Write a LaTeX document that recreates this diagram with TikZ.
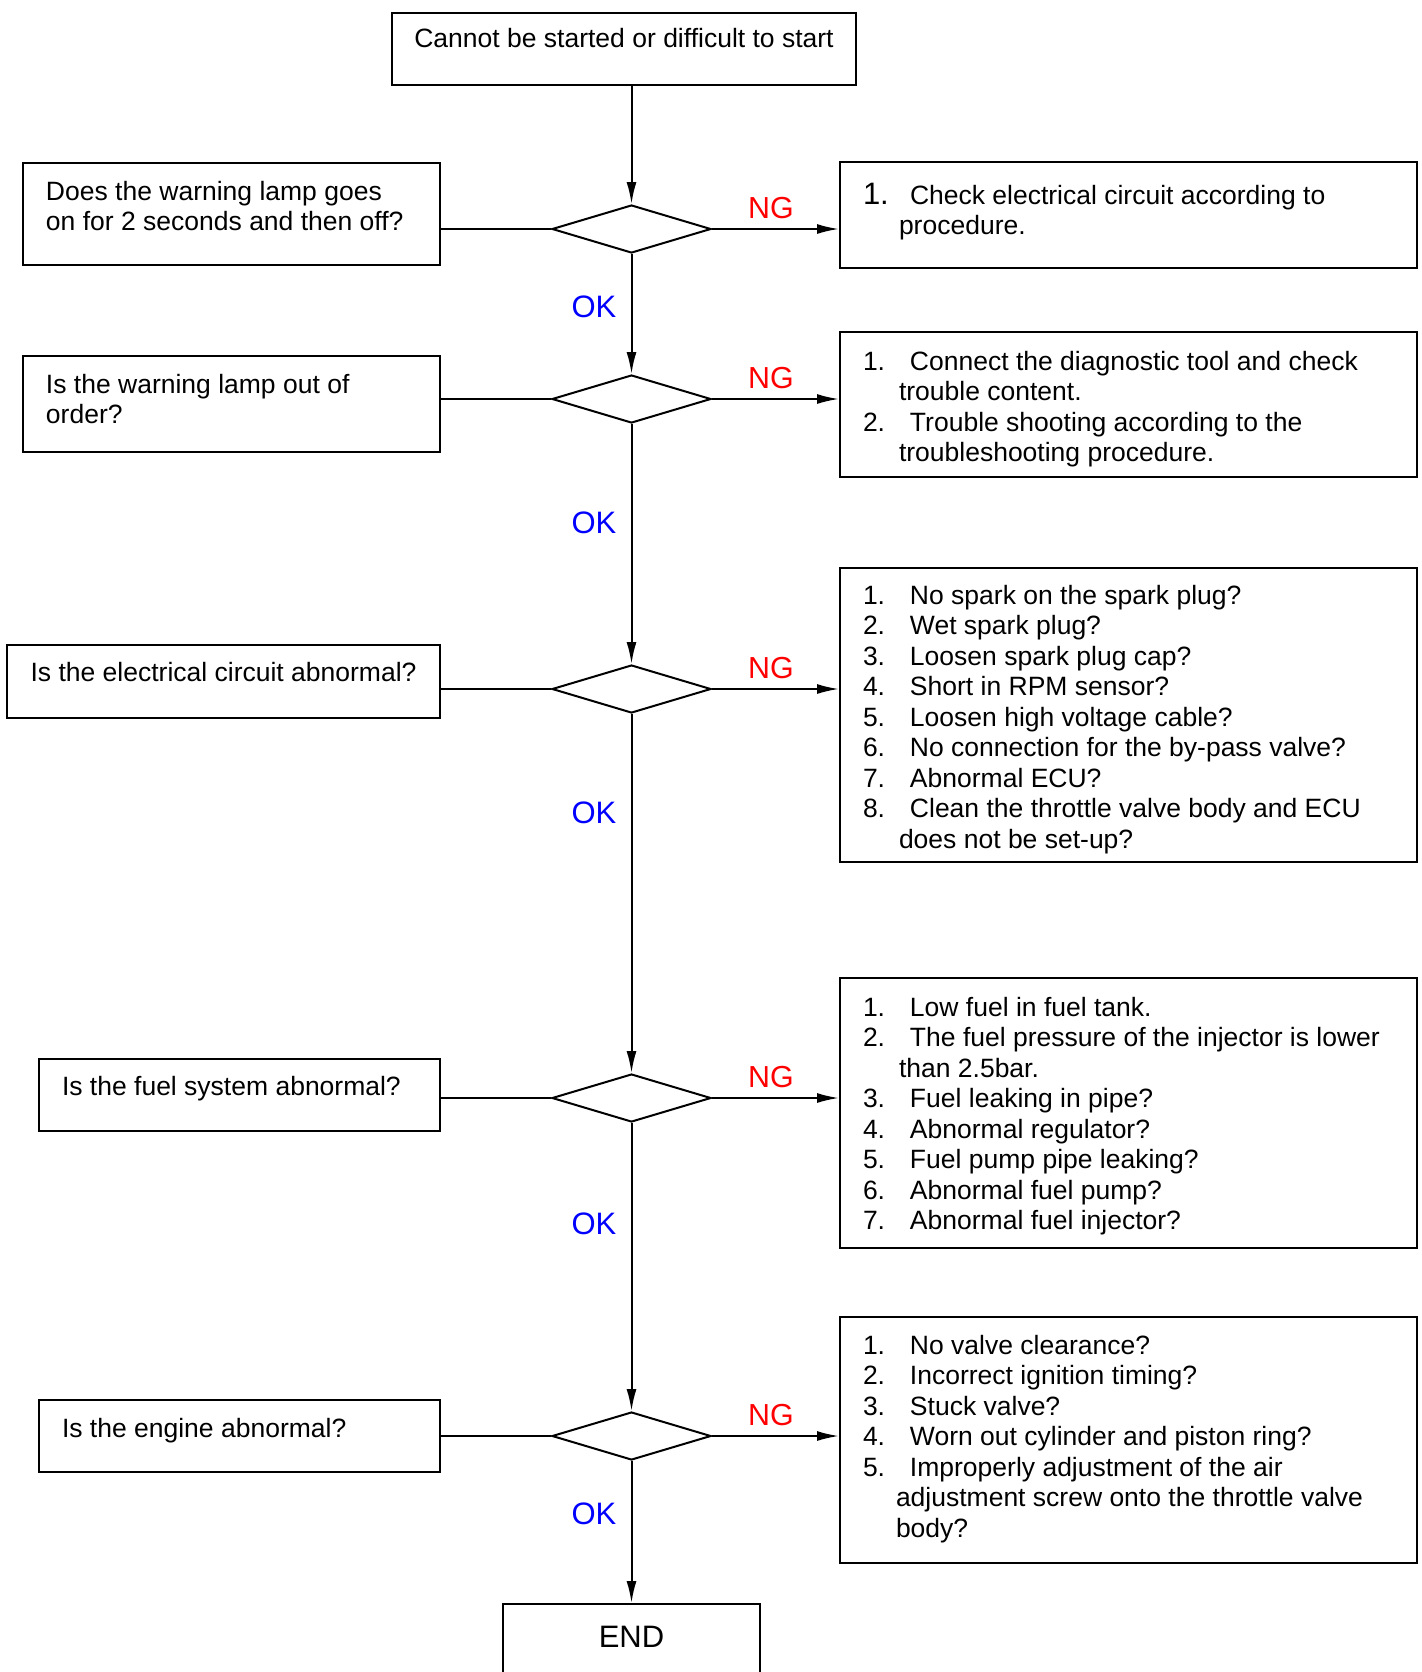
\documentclass[tikz,border=0pt]{standalone}
\usepackage{fontspec}
\setmainfont{Liberation Sans}
\usetikzlibrary{shapes.geometric,arrows.meta}
\newcommand\fl{\rule{0pt}{10pt}}
\newcommand\lnum[1]{\makebox[23.5pt][l]{#1}}
\newcommand\lcont{\hspace*{18pt}}
\begin{document}
\begin{tikzpicture}[x=0.5pt,y=-0.5pt,line width=1pt,
  box/.style={draw,rectangle,inner sep=0pt},
  dec/.style={draw,diamond,inner sep=0pt,minimum width=79.5pt,minimum height=24pt},
  txt/.style={anchor=north west,inner sep=0pt,align=left,font=\fontsize{13.25}{15.25}\selectfont},
  ctxt/.style={anchor=base,inner sep=0pt,font=\fontsize{13.25}{15.25}\selectfont},
  arr/.style={-{Latex[length=11pt,width=5pt]}},
  ng/.style={anchor=base,inner sep=0pt,text=red,font=\fontsize{15.2}{18}\selectfont},
  ok/.style={anchor=base,inner sep=0pt,text=blue,font=\fontsize{15.5}{18}\selectfont}]
\useasboundingbox (0,0) rectangle (1422,1672);

% boxes
\node[box,minimum width=232pt,minimum height=36pt] (top) at (624,49) {};
\node[box,minimum width=208.5pt,minimum height=51pt] (q1) at (231.5,213.5) {};
\node[box,minimum width=208.5pt,minimum height=48pt] (q2) at (231.5,404) {};
\node[box,minimum width=216.5pt,minimum height=36.5pt] (q3) at (223.5,681.5) {};
\node[box,minimum width=200.5pt,minimum height=36pt] (q4) at (239.5,1095) {};
\node[box,minimum width=200.5pt,minimum height=36pt] (q5) at (239.5,1436) {};
\node[box,minimum width=288.5pt,minimum height=53pt] (n1) at (1128.5,215) {};
\node[box,minimum width=288.5pt,minimum height=72.5pt] (n2) at (1128.5,404.5) {};
\node[box,minimum width=288.5pt,minimum height=147pt] (n3) at (1128.5,715) {};
\node[box,minimum width=288.5pt,minimum height=135pt] (n4) at (1128.5,1113) {};
\node[box,minimum width=288.5pt,minimum height=123pt] (n5) at (1128.5,1440) {};
\node[box,minimum width=128.5pt,minimum height=43pt] (endb) at (631.5,1647) {};

% decisions
\node[dec] (d1) at (631.5,229) {};
\node[dec] (d2) at (631.5,399) {};
\node[dec] (d3) at (631.5,689) {};
\node[dec] (d4) at (631.5,1098) {};
\node[dec] (d5) at (631.5,1436) {};

% texts
\node[ctxt] (ttop) at (624,47) {Cannot be started or difficult to start};
\node[txt] (tq1) at (45,179) {\fl Does the warning lamp goes\\on for 2 seconds and then off?};
\node[txt] (tq2) at (45,372) {\fl Is the warning lamp out of\\order?};
\node[ctxt] (tq3) at (223.5,681) {Is the electrical circuit abnormal?};
\node[ctxt,anchor=base west] (tq4) at (61,1095) {Is the fuel system abnormal?};
\node[ctxt,anchor=base west] (tq5) at (61,1437) {Is the engine abnormal?};
\node[font=\fontsize{15.5}{18}\selectfont,anchor=base,inner sep=0pt] (tend) at (631.5,1647) {END};

\node[txt] (tn1) at (862,183) {\fl\lnum{\smash{\fontsize{15.5}{15}\selectfont 1.}}Check electrical circuit according to\\
\lcont procedure.};
\node[txt] (tn2) at (862,349) {\fl\lnum{1.}Connect the diagnostic tool and check\\
\lcont trouble content.\\
\lnum{2.}Trouble shooting according to the\\
\lcont troubleshooting procedure.};
\node[txt] (tn3) at (862,583) {\fl\lnum{1.}No spark on the spark plug?\\
\lnum{2.}Wet spark plug?\\
\lnum{3.}Loosen spark plug cap?\\
\lnum{4.}Short in RPM sensor?\\
\lnum{5.}Loosen high voltage cable?\\
\lnum{6.}No connection for the by-pass valve?\\
\lnum{7.}Abnormal ECU?\\
\lnum{8.}Clean the throttle valve body and ECU\\
\lcont does not be set-up?};
\node[txt] (tn4) at (862,995) {\fl\lnum{1.}Low fuel in fuel tank.\\
\lnum{2.}The fuel pressure of the injector is lower\\
\lcont than 2.5bar.\\
\lnum{3.}Fuel leaking in pipe?\\
\lnum{4.}Abnormal regulator?\\
\lnum{5.}Fuel pump pipe leaking?\\
\lnum{6.}Abnormal fuel pump?\\
\lnum{7.}Abnormal fuel injector?};
\node[txt] (tn5) at (862,1333) {\fl\lnum{1.}No valve clearance?\\
\lnum{2.}Incorrect ignition timing?\\
\lnum{3.}Stuck valve?\\
\lnum{4.}Worn out cylinder and piston ring?\\
\lnum{5.}Improperly adjustment of the air\\
\hspace*{16.5pt}adjustment screw onto the throttle valve\\
\hspace*{16.5pt}body?};

% main flow
\draw[arr] (top.south -| d1.north) -- (d1.north);
\draw[arr] (d1.south) -- (d2.north);
\draw[arr] (d2.south) -- (d3.north);
\draw[arr] (d3.south) -- (d4.north);
\draw[arr] (d4.south) -- (d5.north);
\draw[arr] (d5.south) -- (endb.north);

% question links
\draw (q1.east |- d1.west) -- (d1.west);
\draw (q2.east |- d2.west) -- (d2.west);
\draw (q3.east |- d3.west) -- (d3.west);
\draw (q4.east |- d4.west) -- (d4.west);
\draw (q5.east |- d5.west) -- (d5.west);

% NG arrows
\draw[arr] (d1.east) -- (n1.west |- d1.east);
\draw[arr] (d2.east) -- (n2.west |- d2.east);
\draw[arr] (d3.east) -- (n3.west |- d3.east);
\draw[arr] (d4.east) -- (n4.west |- d4.east);
\draw[arr] (d5.east) -- (n5.west |- d5.east);

% labels
\node[ng] (ng1) at (771,218) {NG};
\node[ng] (ng2) at (771,388) {NG};
\node[ng] (ng3) at (771,678) {NG};
\node[ng] (ng4) at (771,1087) {NG};
\node[ng] (ng5) at (771,1425) {NG};
\node[ok] (ok1) at (594,317) {OK};
\node[ok] (ok2) at (594,533) {OK};
\node[ok] (ok3) at (594,823) {OK};
\node[ok] (ok4) at (594,1234) {OK};
\node[ok] (ok5) at (594,1524) {OK};
\end{tikzpicture}
\end{document}
